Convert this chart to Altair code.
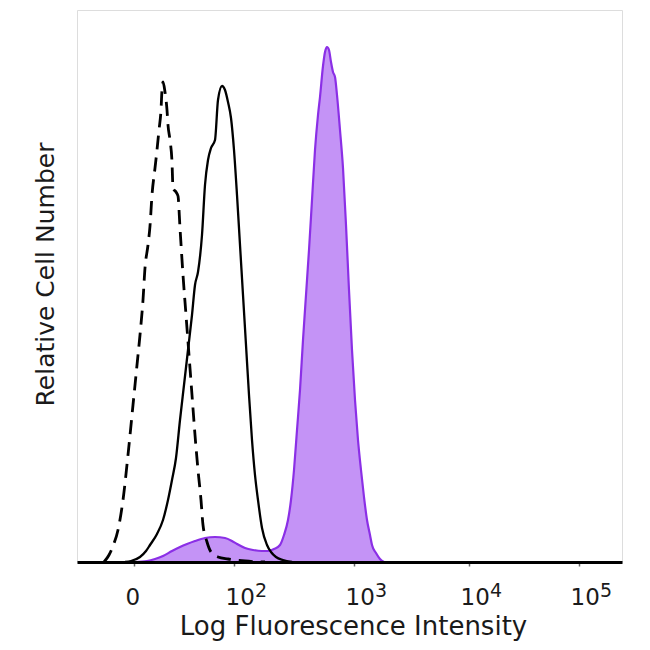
import altair as alt
import pandas as pd

# Display channel (x) and relative cell count (y)
dash_x = [54, 64, 72, 82, 92, 102, 112, 120, 126, 132, 136, 142, 146, 150, 156, 160, 164, 168, 170, 172,
          176, 180, 182, 186, 190, 192, 198, 202, 206, 212, 218, 224, 230, 236, 242, 248, 252, 260, 268,
          282, 302, 336, 376]
dash_y = [0, 7, 16, 32, 62, 107, 157, 197, 227, 262, 294, 317, 336, 367, 394, 412, 432, 452, 472, 480,
          470, 452, 437, 422, 400, 374, 370, 366, 334, 287, 247, 207, 167, 127, 92, 62, 37, 20, 10,
          5, 3, 1, 0]

solid_x = [96, 108, 126, 138, 146, 160, 172, 182, 190, 198, 206, 214, 222, 230, 236, 242, 250, 256, 262,
           268, 276, 282, 290, 296, 302, 308, 314, 320, 326, 332, 338, 344, 350, 356, 362, 370, 380, 388,
           398, 412, 430]
solid_y = [0, 1, 5, 11, 17, 28, 42, 62, 82, 104, 142, 177, 212, 247, 277, 290, 327, 377, 402,
           414, 422, 462, 476, 472, 460, 444, 412, 367, 317, 267, 217, 167, 122, 87, 62, 34, 17, 10,
           5, 2, 0]

pos_x = [116, 140, 156, 172, 190, 206, 220, 236, 256, 276, 296, 310, 320, 336, 352, 370, 382, 394, 406,
         414, 422, 428, 434, 440, 446, 452, 458, 464, 470, 476, 482, 486, 492, 496, 500, 504, 508, 512,
         516, 520, 526, 532, 538, 544, 550, 556, 562, 568, 574, 580, 586, 590, 598, 606, 614]
pos_y = [0, 1, 3, 6, 11, 15, 18, 21, 24, 25, 24, 21, 18, 14, 12, 11, 11, 13, 17,
         27, 42, 62, 92, 132, 172, 222, 267, 312, 362, 412, 447, 465, 496, 510, 515, 512, 500, 490,
         485, 467, 432, 394, 337, 272, 212, 162, 122, 92, 65, 42, 27, 17, 9, 3, 0]

tick_values = [114, 314, 554, 784, 1004]
tick_labels = ["0", "10", "10", "10", "10"]
tick_exponents = ["", "2", "3", "4", "5"]

FONT = "DejaVu Sans"
TEXT = "#1a1a1a"

label_expr = "[" + ",".join("'" + t + "'" for t in tick_labels) + "][indexof([" + \
    ",".join(str(v) for v in tick_values) + "], datum.value)]"

x_axis = alt.Axis(
    values=tick_values, labelExpr=label_expr, labelAlign="left", labelOffset=-9,
    labelFont=FONT, labelFontSize=23, labelColor=TEXT, labelBaseline="alphabetic",
    labelPadding=38, labelOverlap=False, labelFlush=False,
    tickSize=4, tickColor="#666666", tickWidth=1.5,
    domainColor="black", domainWidth=3, grid=False, zindex=1,
    title="Log Fluorescence Intensity", titleFont=FONT, titleFontSize=26,
    titleFontWeight="normal", titleColor=TEXT, titleX=276, titleY=72,
    titleBaseline="alphabetic", titleAlign="center",
)
y_axis = alt.Axis(
    labels=False, ticks=False, domain=False, grid=False,
    title="Relative Cell Number", titleFont=FONT, titleFontSize=25,
    titleFontWeight="normal", titleColor=TEXT, titleAngle=270,
    titleX=-24, titleY=264, titleBaseline="alphabetic", titleAlign="center",
)

x_scale = alt.Scale(domain=[0, 1090], nice=False, zero=False)
x_enc = alt.X("channel:Q", scale=x_scale, axis=x_axis)
y_enc = alt.Y("count:Q", scale=alt.Scale(domain=[0, 552], nice=False), axis=y_axis)

df_pos = pd.DataFrame({"channel": pos_x, "count": pos_y})
df_solid = pd.DataFrame({"channel": solid_x, "count": solid_y})
df_dash = pd.DataFrame({"channel": dash_x, "count": dash_y})
df_exp = pd.DataFrame({"channel": tick_values, "exp": tick_exponents})

purple = alt.Chart(df_pos).mark_area(
    color="#c493f6", opacity=1, interpolate="monotone",
    line={"color": "#8b2fe6", "strokeWidth": 2.2},
).encode(x=x_enc, y=y_enc)

solid = alt.Chart(df_solid).mark_line(
    color="black", strokeWidth=2.3, interpolate="monotone"
).encode(x=x_enc, y=y_enc)

dashed = alt.Chart(df_dash).mark_line(
    color="black", strokeWidth=2.8, strokeDash=[14, 8], interpolate="monotone"
).encode(x=x_enc, y=y_enc)

exponents = alt.Chart(df_exp).mark_text(
    font=FONT, fontSize=19, color=TEXT, align="left", baseline="alphabetic",
    dx=21, dy=35,
).encode(x=alt.X("channel:Q", scale=x_scale), y=alt.datum(0), text="exp:N")

chart = alt.layer(purple, solid, dashed, exponents).properties(
    width=545, height=552,
    autosize=alt.AutoSizeParams(type="none"),
    padding={"left": 69, "top": 2, "right": 20, "bottom": 80},
).configure_view(stroke="#bdbdbd", strokeWidth=2).configure(background="white")

chart.save("out.html", embed_options={"renderer": "svg", "actions": False})
